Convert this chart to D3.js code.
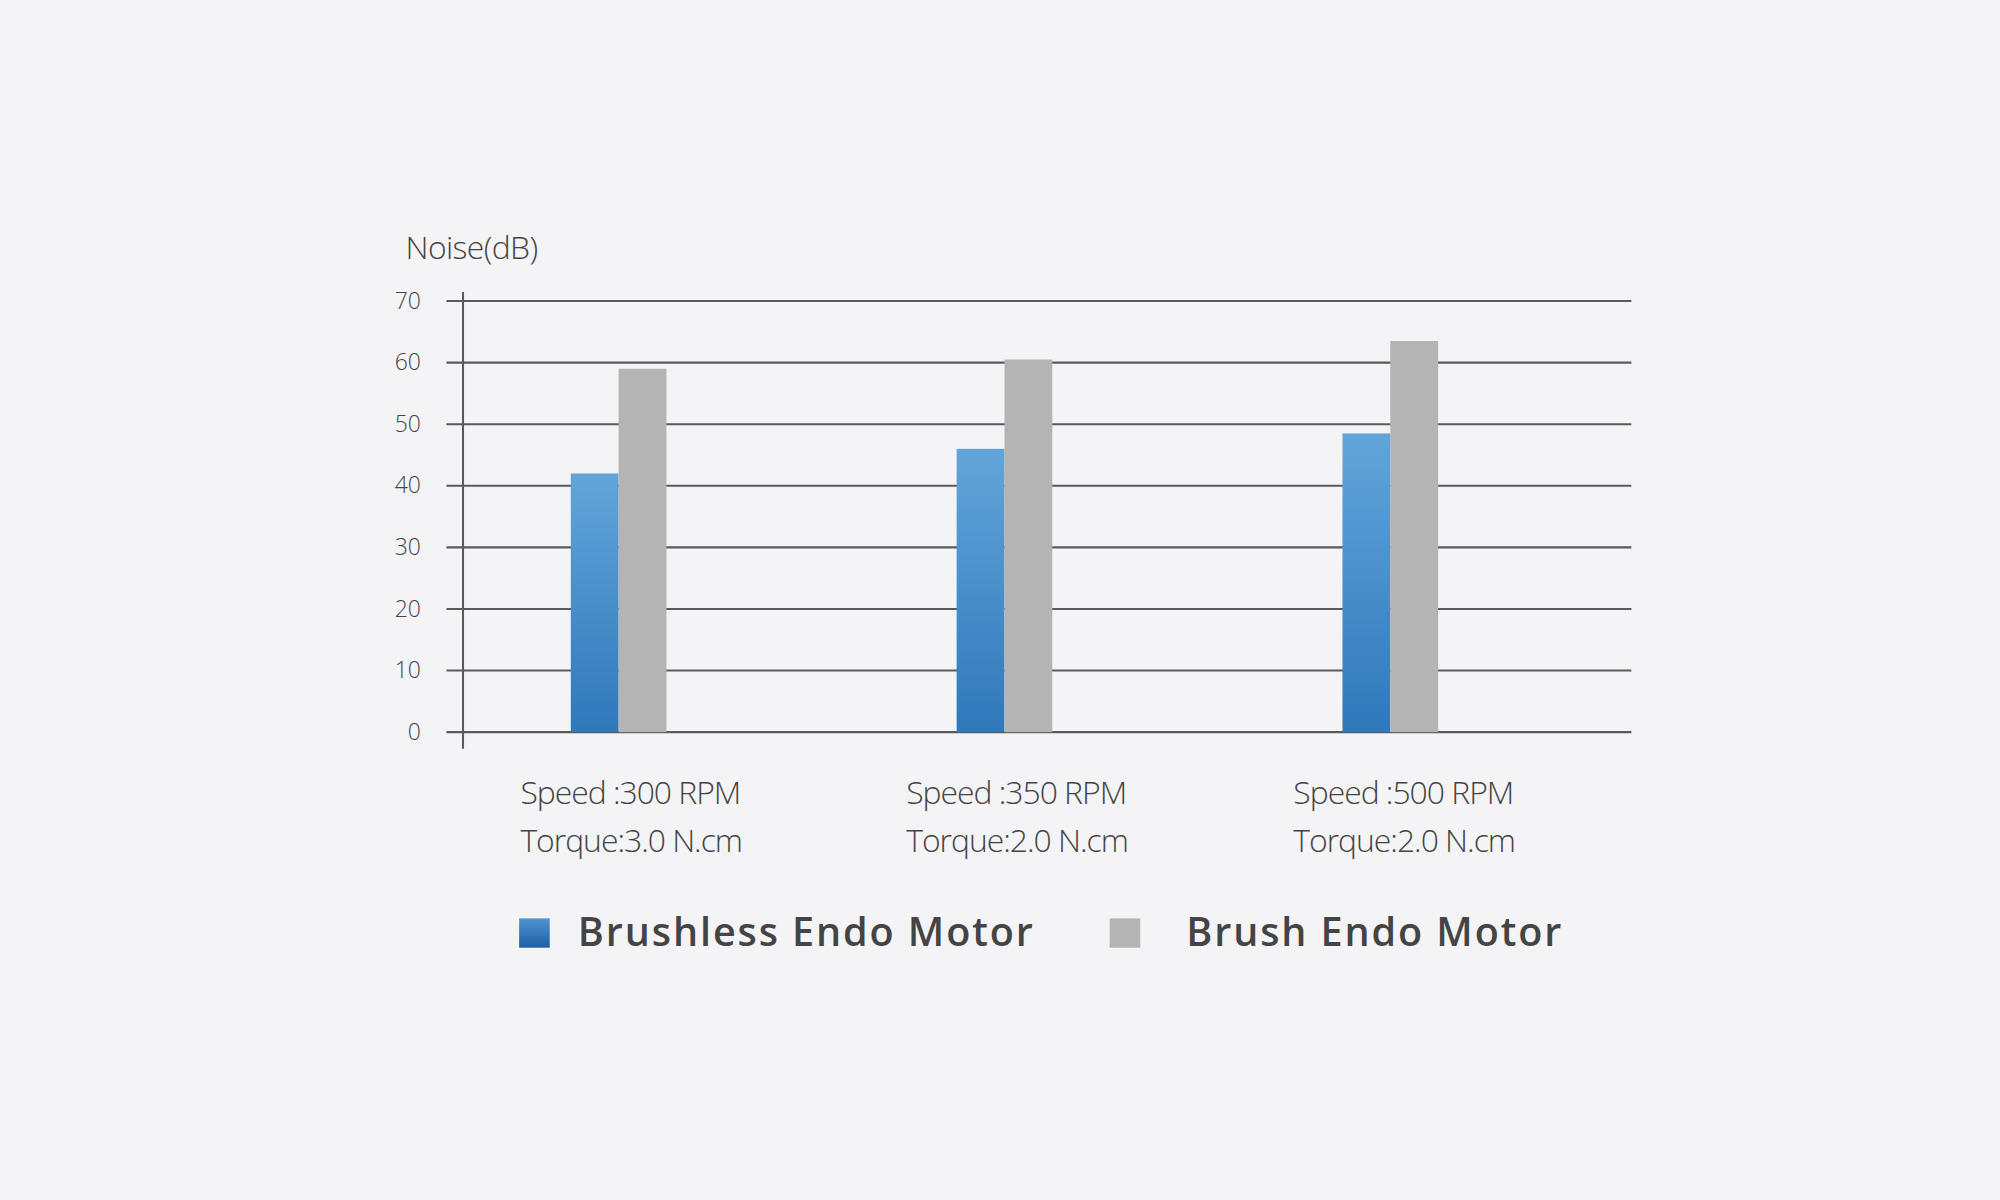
<!DOCTYPE html>
<html><head><meta charset="utf-8">
<script src="https://cdn.jsdelivr.net/npm/d3@7"></script>
<style>body{margin:0;background:#f4f4f6}svg{display:block}</style>
</head><body>
<script>
const categories = ["300","350","500"];
const speedLabels = ["Speed :300 RPM","Speed :350 RPM","Speed :500 RPM"];
const torqueLabels = ["Torque:3.0 N.cm","Torque:2.0 N.cm","Torque:2.0 N.cm"];
const brushless = [42, 46, 48.5];
const brush = [59, 60.5, 63.5];
const yTicks = [0,10,20,30,40,50,60,70];
const seriesNames = ["Brushless Endo Motor","Brush Endo Motor"];

const k = 2000/1568;
const svg = d3.select("body").append("svg").attr("width",2000).attr("height",1200);
svg.append("rect").attr("width",2000).attr("height",1200).attr("fill","#f4f4f6");
const defs = svg.append("defs");
const grad = defs.append("linearGradient").attr("id","bg").attr("x1",0).attr("x2",0).attr("y1",0).attr("y2",1);
grad.append("stop").attr("offset","0%").attr("stop-color","#62a5da");
grad.append("stop").attr("offset","100%").attr("stop-color","#2f78ba");
const lgrad = defs.append("linearGradient").attr("id","lg").attr("x1",0).attr("x2",0).attr("y1",0).attr("y2",1);
lgrad.append("stop").attr("offset","0%").attr("stop-color","#4f95d2");
lgrad.append("stop").attr("offset","100%").attr("stop-color","#1f5ea6");

const g = svg.append("g").attr("transform",`scale(${k})`);
const font = "'Open Sans', sans-serif";
const y = d3.scaleLinear().domain([0,70]).range([574,236]);
const x = d3.scalePoint().domain(categories).range([485,1090]);
const bw = 37.5;

// gridlines
g.selectAll(".grid").data(yTicks).enter().append("line")
  .attr("x1",350).attr("x2",1279).attr("y1",d=>y(d)).attr("y2",d=>y(d))
  .attr("stroke","#5a5a5e").attr("stroke-width",1.6);
// bars
g.selectAll(".b1").data(brushless).enter().append("rect")
  .attr("x",(d,i)=>x(categories[i])-bw).attr("width",bw)
  .attr("y",d=>y(d)).attr("height",d=>y(0)-y(d)).attr("fill","url(#bg)");
g.selectAll(".b2").data(brush).enter().append("rect")
  .attr("x",(d,i)=>x(categories[i])).attr("width",bw)
  .attr("y",d=>y(d)).attr("height",d=>y(0)-y(d)).attr("fill","#b4b4b4");
// y axis line
g.append("line").attr("x1",363).attr("x2",363).attr("y1",229).attr("y2",587)
  .attr("stroke","#5a5a5e").attr("stroke-width",1.6);
// tick labels
g.selectAll(".yt").data(yTicks).enter().append("text")
  .attr("x",330).attr("y",d=>y(d)+6).attr("text-anchor","end")
  .attr("font-family",font).attr("font-weight",300).attr("font-size",18).attr("fill","#444")
  .text(d=>d);
g.append("text").attr("x",318).attr("y",203).attr("font-family",font).attr("font-weight",300)
  .attr("font-size",25).attr("fill","#444").attr("letter-spacing",-0.5).text("Noise(dB)");
// category labels
categories.forEach((c,i)=>{
  const lx = x(c) - 77 + (i===2? 1:0);
  g.append("text").attr("x",lx).attr("y",630).attr("font-family",font).attr("font-weight",300)
    .attr("font-size",25).attr("fill","#444").attr("letter-spacing",-0.8).text(speedLabels[i]);
  g.append("text").attr("x",lx).attr("y",668).attr("font-family",font).attr("font-weight",300)
    .attr("font-size",25).attr("fill","#444").attr("letter-spacing",-0.8).text(torqueLabels[i]);
});
// legend
const legX = [407, 870], legT = [453, 930];
seriesNames.forEach((s,i)=>{
  g.append("rect").attr("x",legX[i]).attr("y",720).attr("width",24).attr("height",23)
    .attr("fill", i===0?"url(#lg)":"#b4b4b4");
  g.append("text").attr("x",legT[i]).attr("y",742).attr("font-family",font).attr("font-weight",600)
    .attr("font-size",31).attr("fill","#444").attr("letter-spacing",1.5).text(s);
});
</script>
</body></html>
